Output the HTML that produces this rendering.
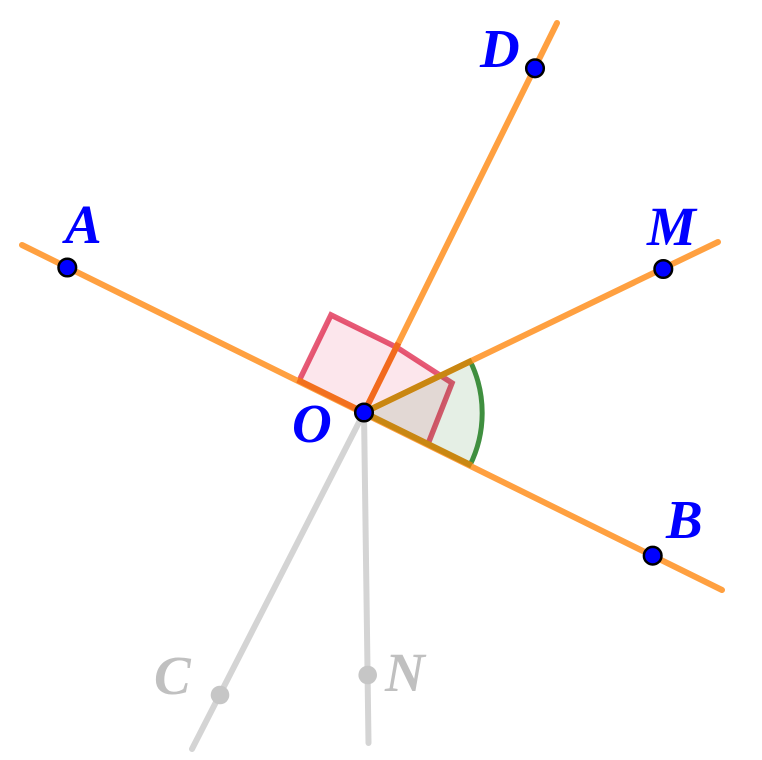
<!DOCTYPE html>
<html>
<head>
<meta charset="utf-8">
<style>
  html, body { margin: 0; padding: 0; background: #ffffff; }
  svg { display: block; }
  .lbl { font-family: "Liberation Serif", "DejaVu Serif", serif; font-weight: bold; font-style: italic; font-size: 55px; }
</style>
</head>
<body>
<svg width="762" height="760" viewBox="0 0 762 760" xmlns="http://www.w3.org/2000/svg">
  <rect x="0" y="0" width="762" height="760" fill="#ffffff"/>

  <!-- straight angle marker -->
  <polygon points="299,381 331,315 397,347.5 452,383 428,444" fill="rgb(252,230,236)" stroke="rgba(220,20,60,0.7)" stroke-width="5.5" stroke-linejoin="miter"/>

  <!-- angle sector MOB -->
  <path d="M364,412.5 L470.3,361.3 A118,118 0 0 1 469.8,465.5 Z" fill="rgba(0,100,0,0.1)" stroke="none"/>
  <path d="M470.3,361.3 A118,118 0 0 1 469.8,465.5" fill="none" stroke="#3f8f3f" stroke-width="5"/>

  <!-- orange lines -->
  <g stroke="#ffa040" stroke-width="6" stroke-linecap="round" fill="none">
    <line x1="22" y1="245" x2="722" y2="590"/>
    <line x1="364" y1="412.5" x2="718" y2="242"/>
    <line x1="364" y1="412.5" x2="557" y2="23"/>
  </g>

  <!-- darker overlapping segments -->
  <g stroke-width="6" fill="none">
    <line x1="364" y1="412.5" x2="398.4" y2="343" stroke="#f26a1e"/>
    <line x1="364" y1="412.5" x2="297.6" y2="379.8" stroke="#f2701e"/>
    <line x1="364" y1="412.5" x2="472" y2="360.5" stroke="#c98712"/>
    <line x1="364" y1="412.5" x2="471.6" y2="465.5" stroke="#c98712"/>
  </g>

  <!-- gray lines -->
  <g stroke="#d4d4d4" stroke-width="6" stroke-linecap="round" fill="none">
    <line x1="364" y1="412.5" x2="192" y2="749"/>
    <line x1="364" y1="412.5" x2="368.5" y2="743"/>
  </g>

  <!-- gray points -->
  <circle cx="220" cy="695" r="9.3" fill="#c6c6c6"/>
  <circle cx="367.7" cy="675" r="9.3" fill="#c6c6c6"/>

  <!-- blue points -->
  <g fill="#0000ff" stroke="#000000" stroke-width="2.5">
    <circle cx="67.3" cy="267.5" r="8.8"/>
    <circle cx="535" cy="68.3" r="8.8"/>
    <circle cx="663.3" cy="269" r="8.8"/>
    <circle cx="364" cy="412.5" r="8.8"/>
    <circle cx="652.7" cy="555.7" r="8.8"/>
  </g>

  <!-- labels -->
  <g class="lbl" fill="#0000ff">
    <text x="65" y="243">A</text>
    <text x="480" y="67">D</text>
    <text x="647" y="245">M</text>
    <text x="292" y="442">O</text>
    <text x="666" y="538">B</text>
  </g>
  <g class="lbl" fill="#c0c0c0">
    <text x="154" y="694">C</text>
    <text x="385" y="691">N</text>
  </g>
</svg>
</body>
</html>
